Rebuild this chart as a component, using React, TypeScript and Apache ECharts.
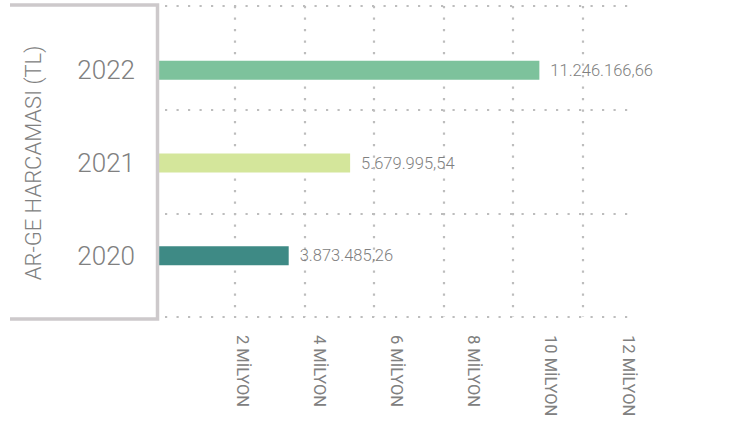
import React, { useEffect, useRef } from "react";
import * as echarts from "echarts";

const years = ["2020", "2021", "2022"];
const spending = [3873485.26, 5679995.54, 11246166.66];
const barColors = ["#3e8a85", "#d4e69b", "#7dc29c"];
const axisTitle = "AR-GE HARCAMASI (TL)";
const tickUnit = "MİLYON";

const FONT = "Roboto";
const TEXT = "#808080";
const DOT = "#bdbdbd";
const dotted = { type: [2.2, 9.3] as number[], width: 2.2, color: DOT };

function trFormat(v: number): string {
  const [int, dec] = v.toFixed(2).split(".");
  const withDots = int.replace(/\B(?=(\d{3})+(?!\d))/g, ".");
  return withDots + "," + dec;
}

export default function App() {
  const ref = useRef<HTMLDivElement>(null);
  useEffect(() => {
    if (!ref.current) return;
    const chart = echarts.init(ref.current, undefined, { renderer: "svg" });
    chart.setOption({
      animation: false,
      textStyle: { fontFamily: FONT },
      grid: [
        { left: 157, top: 24, width: 476, height: 278 },
        { left: 165, top: 6, width: 470, height: 311 },
        { left: 165, top: 6, width: 463, height: 311 },
      ],
      graphic: [
        {
          type: "polyline",
          shape: { points: [[10, 5], [157.5, 5], [157.5, 319], [10, 319]] },
          style: { stroke: "#cdc9cb", lineWidth: 3.5, fill: null },
          z: 10,
        },
      ],
      xAxis: [
        { gridIndex: 0, type: "value", min: 0, max: 14e6, show: false },
        {
          gridIndex: 1,
          type: "value",
          min: 0,
          max: 13.5e6,
          interval: 2e6,
          axisLine: { show: false },
          axisTick: { show: false },
          axisLabel: { show: false },
          splitLine: { show: true, showMinLine: false, showMaxLine: false, lineStyle: dotted },
        },
        {
          gridIndex: 2,
          type: "value",
          min: 0,
          max: 12e6,
          interval: 2e6,
          axisLine: { show: false },
          axisTick: { show: false },
          splitLine: { show: false },
          axisLabel: {
            rotate: -90,
            margin: 18,
            fontSize: 16.5,
            color: TEXT,
            fontFamily: FONT,
            formatter: (v: number) => (v === 0 ? "" : `${v / 1e6} ${tickUnit}`),
          },
        },
      ],
      yAxis: [
        {
          gridIndex: 0,
          type: "category",
          data: years,
          axisLine: { show: false },
          axisTick: { show: false },
          splitLine: { show: false },
          axisLabel: { margin: 22, fontSize: 26, color: TEXT, fontFamily: FONT, fontWeight: 300 },
          name: axisTitle,
          nameLocation: "middle",
          nameRotate: 90,
          nameGap: 113,
          nameTextStyle: { fontSize: 22, color: TEXT, fontFamily: FONT, fontWeight: 300 },
        },
        {
          gridIndex: 1,
          type: "value",
          min: 0,
          max: 3,
          interval: 1,
          axisLine: { show: false },
          axisTick: { show: false },
          axisLabel: { show: false },
          splitLine: { show: true, lineStyle: dotted },
        },
        { gridIndex: 2, type: "value", min: 0, max: 1, show: false, splitLine: { show: false } },
      ],
      series: [
        {
          type: "bar",
          xAxisIndex: 0,
          yAxisIndex: 0,
          barWidth: 19,
          data: spending,
          z: 5,
          itemStyle: { color: (p: any) => barColors[p.dataIndex] },
          label: {
            show: true,
            position: "right",
            distance: 11,
            fontSize: 16.5,
            color: TEXT,
            fontFamily: FONT,
            fontWeight: 300,
            formatter: (p: any) => trFormat(p.value),
          },
        },
      ],
    });
    return () => chart.dispose();
  }, []);
  return (
    <div
      ref={ref}
      style={{ position: "absolute", left: 0, top: 0, width: 734, height: 426 }}
    />
  );
}
